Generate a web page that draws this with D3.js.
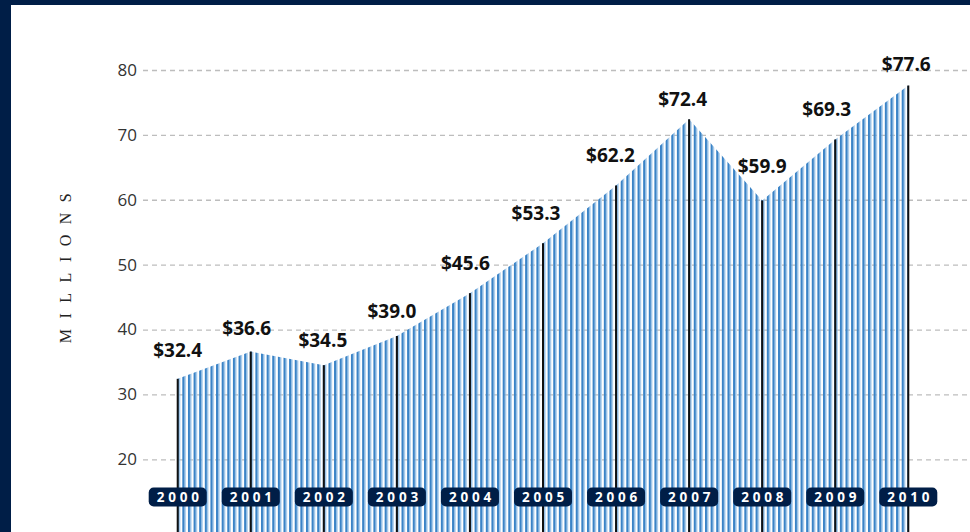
<!DOCTYPE html>
<html>
<head>
<meta charset="utf-8">
<script src="https://cdn.jsdelivr.net/npm/d3@7"></script>
<style>
  html, body { margin: 0; padding: 0; background: #fff; }
  svg { display: block; }
</style>
</head>
<body>
<div id="chart"></div>
<script>
// chart data
const years = [2000, 2001, 2002, 2003, 2004, 2005, 2006, 2007, 2008, 2009, 2010];
const values = [32.4, 36.6, 34.5, 39.0, 45.6, 53.3, 62.2, 72.4, 59.9, 69.3, 77.6];
const yTicks = [20, 30, 40, 50, 60, 70, 80];
// hand placed label nudges [dx, dy] from each point, like in the original
const labelNudge = [[0, -22], [-4, -17], [-1, -18], [-5, -18], [-4.5, -23.5], [-7, -23],
                    [-5.5, -23.5], [-6.5, -13.5], [0, -27], [-8.5, -23], [-2, -14.5]];

const width = 970;
const height = 532;
const navy = '#001e47';

const data = years.map((year, i) => ({year, value: values[i]}));

const svg = d3.select('#chart')
    .append('svg')
    .attr('width', width)
    .attr('height', height)
    .attr('viewBox', [0, 0, width, height]);

// navy frame on top and left
svg.append('rect').attr('width', width).attr('height', height).attr('fill', navy);
svg.append('rect').attr('x', 11).attr('y', 5).attr('width', width - 11).attr('height', height - 5).attr('fill', '#fff');

const x = d3.scalePoint()
    .domain(years)
    .range([177.7, 908.3]);

const y = d3.scaleLinear()
    .domain([20, 80])
    .range([459.3, 70]);

// stripe pattern, 13 stripes per year
const stripeW = x.step() / 13;
const pattern = svg.append('defs').append('pattern')
    .attr('id', 'stripes')
    .attr('patternUnits', 'userSpaceOnUse')
    .attr('x', x(2000) - 1)
    .attr('y', 0)
    .attr('width', stripeW)
    .attr('height', 10);
pattern.append('rect').attr('x', 0).attr('y', 0).attr('width', 2.4).attr('height', 10).attr('fill', '#3a83c6');
pattern.append('rect').attr('x', 2.4).attr('y', 0).attr('width', 1).attr('height', 10).attr('fill', '#8dbce6');

// grid + y axis
const gridLeft = 143;
const yAxis = svg.append('g')
    .attr('transform', `translate(${gridLeft},0)`)
    .call(d3.axisLeft(y).tickValues(yTicks).tickSize(-(width - gridLeft)).tickPadding(6));
yAxis.select('.domain').remove();
yAxis.selectAll('.tick line')
    .attr('stroke', '#bdbdbd')
    .attr('stroke-width', 1.3)
    .attr('stroke-dasharray', '5,4');
yAxis.selectAll('.tick text')
    .attr('fill', '#333')
    .style('font-family', '"Open Sans", sans-serif')
    .style('font-size', '17px');

// striped area
const area = d3.area()
    .x(d => x(d.year))
    .y0(height + 10)
    .y1(d => y(d.value))
    .curve(d3.curveLinear);

svg.append('path')
    .datum(data)
    .attr('d', area)
    .attr('fill', 'url(#stripes)');

// year lines
svg.append('g')
    .selectAll('line')
    .data(data)
    .join('line')
    .attr('x1', d => x(d.year))
    .attr('x2', d => x(d.year))
    .attr('y1', d => y(d.value))
    .attr('y2', height + 5)
    .attr('stroke', '#111')
    .attr('stroke-width', 2);

// year badges
const badge = svg.append('g')
    .selectAll('g')
    .data(data)
    .join('g')
    .attr('transform', d => `translate(${x(d.year)},497)`);
badge.append('rect')
    .attr('x', -29)
    .attr('y', -9.5)
    .attr('width', 58)
    .attr('height', 19)
    .attr('rx', 5)
    .attr('fill', navy);
badge.append('text')
    .attr('x', 2)
    .attr('y', 5)
    .attr('text-anchor', 'middle')
    .attr('fill', '#fff')
    .style('font-family', '"Open Sans", sans-serif')
    .style('font-weight', 700)
    .style('font-size', '13.5px')
    .style('letter-spacing', '3.8px')
    .text(d => d.year);

// value labels
svg.append('g')
    .selectAll('text')
    .data(data)
    .join('text')
    .attr('x', (d, i) => x(d.year) + labelNudge[i][0])
    .attr('y', (d, i) => y(d.value) + labelNudge[i][1])
    .attr('text-anchor', 'middle')
    .attr('fill', '#111')
    .style('font-family', '"Open Sans", sans-serif')
    .style('font-weight', 700)
    .style('font-size', '19px')
    .text(d => '$' + d.value.toFixed(1));

// y-axis title
svg.append('text')
    .attr('transform', 'translate(71,263) rotate(-90)')
    .attr('text-anchor', 'middle')
    .attr('fill', '#222')
    .style('font-family', '"Liberation Serif", serif')
    .style('font-size', '16px')
    .style('letter-spacing', '10.5px')
    .text('MILLIONS');
</script>
</body>
</html>
